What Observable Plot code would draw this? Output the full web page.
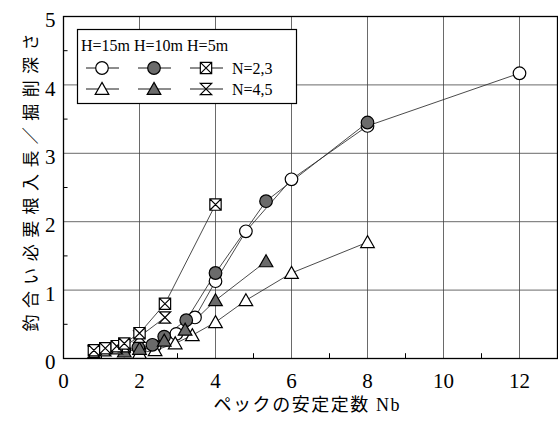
<!DOCTYPE html>
<html><head><meta charset="utf-8">
<script src="https://cdn.jsdelivr.net/npm/d3@7"></script>
<script src="https://cdn.jsdelivr.net/npm/@observablehq/plot@0.6"></script>
<style>body{margin:0;background:#fff}</style>
</head><body><div id="chart"></div>
<script>
// ---- data ----
const xLabel = "ペックの安定定数 Nb";
const yLabel = "釣合い必要根入長／掘削深さ";
const xTicks = [0, 2, 4, 6, 8, 10, 12];
const yTicks = [0, 1, 2, 3, 4, 5];
const xMinor = [1, 3, 5, 7, 9, 11];
const yMinor = [0.5, 1.5, 2.5, 3.5, 4.5];
const legendHeader = "H=15m H=10m H=5m";
const legendRowLabels = ["N=2,3", "N=4,5"];

// H=15m, N=2,3 (open circle)
const x_H15_N23 = [2.0, 2.4, 2.97, 3.46, 4.0, 4.8, 6.0, 8.0, 12.0];
const y_H15_N23 = [0.12, 0.18, 0.36, 0.60, 1.13, 1.86, 2.62, 3.40, 4.17];
// H=10m, N=2,3 (filled circle)
const x_H10_N23 = [1.6, 1.97, 2.34, 2.65, 3.23, 4.0, 5.33, 8.0];
const y_H10_N23 = [0.12, 0.16, 0.20, 0.32, 0.56, 1.25, 2.30, 3.45];
// H=5m, N=2,3 (boxed X)
const x_H5_N23 = [0.8, 1.1, 1.4, 1.6, 2.0, 2.67, 4.0];
const y_H5_N23 = [0.12, 0.15, 0.18, 0.22, 0.37, 0.80, 2.25];
// H=15m, N=4,5 (open triangle)
const x_H15_N45 = [2.0, 2.41, 2.94, 3.39, 4.0, 4.8, 6.0, 8.0];
const y_H15_N45 = [0.08, 0.12, 0.22, 0.34, 0.53, 0.85, 1.25, 1.70];
// H=10m, N=4,5 (filled triangle)
const x_H10_N45 = [1.6, 2.0, 2.65, 3.2, 4.0, 5.33];
const y_H10_N45 = [0.10, 0.14, 0.26, 0.42, 0.85, 1.42];
// H=5m, N=4,5 (hourglass X)
const x_H5_N45 = [0.8, 1.1, 1.4, 1.6, 2.0, 2.67];
const y_H5_N45 = [0.10, 0.12, 0.15, 0.18, 0.32, 0.60];

// ---- symbols ----
const triSym = {draw(ctx, size){const r=Math.sqrt(size/Math.PI); ctx.moveTo(0,-1.05*r); ctx.lineTo(1.08*r,0.85*r); ctx.lineTo(-1.08*r,0.85*r); ctx.closePath();}};
const boxXSym = {draw(ctx, size){const r=Math.sqrt(size/Math.PI)*0.9; ctx.moveTo(-r,-r); ctx.lineTo(r,-r); ctx.lineTo(r,r); ctx.lineTo(-r,r); ctx.closePath(); ctx.moveTo(-r,-r); ctx.lineTo(r,r); ctx.moveTo(r,-r); ctx.lineTo(-r,r);}};
const hourSym = {draw(ctx, size){const r=Math.sqrt(size/Math.PI)*0.9; ctx.moveTo(-r,-r); ctx.lineTo(r,-r); ctx.lineTo(-r,r); ctx.lineTo(r,r); ctx.closePath();}};
const grayFill = "#6b6b6b";

const series = [
  {key:"H15_N23", xs:x_H15_N23, ys:y_H15_N23, sym:"circle", d3sym:d3.symbolCircle, fill:"white", row:0, col:0},
  {key:"H15_N45", xs:x_H15_N45, ys:y_H15_N45, sym:triSym, d3sym:triSym, fill:"white", row:1, col:0},
  {key:"H10_N23", xs:x_H10_N23, ys:y_H10_N23, sym:"circle", d3sym:d3.symbolCircle, fill:grayFill, row:0, col:1},
  {key:"H10_N45", xs:x_H10_N45, ys:y_H10_N45, sym:triSym, d3sym:triSym, fill:grayFill, row:1, col:1},
  {key:"H5_N45", xs:x_H5_N45, ys:y_H5_N45, sym:hourSym, d3sym:hourSym, fill:"white", row:1, col:2},
  {key:"H5_N23", xs:x_H5_N23, ys:y_H5_N23, sym:boxXSym, d3sym:boxXSym, fill:"white", row:0, col:2}
];
const rows = series.flatMap(s => s.xs.map((x,i)=>({series:s.key, x, y:s.ys[i]})));

const R = 6.3;
const font = "'Liberation Serif','Times New Roman','DejaVu Serif','Noto Sans CJK JP',serif";
const fmt = d3.format("d");

const plot = Plot.plot({
  width: 558, height: 421,
  marginLeft: 63, marginRight: 1, marginTop: 16, marginBottom: 63,
  x: {domain:[0,13]}, y: {domain:[0,5]},
  style: {fontFamily: font, background: "white", color: "black"},
  marks: [
    Plot.gridX(xTicks.filter(d=>d>0), {stroke:"#444", strokeOpacity:1, strokeWidth:0.8}),
    Plot.gridY(yTicks.filter(d=>d>0 && d<5), {stroke:"#444", strokeOpacity:1, strokeWidth:0.8}),
    Plot.ruleX(xMinor, {y1:0, y2:0.07, stroke:"#000", strokeWidth:1}),
    Plot.ruleY(yMinor, {x1:0, x2:0.12, stroke:"#000", strokeWidth:1}),
    Plot.frame({stroke:"#000", strokeWidth:1.3}),
    Plot.axisX(xTicks, {tickSize:0, tickPadding:15, fontSize:21, label:null, tickFormat:fmt}),
    Plot.axisY(yTicks, {tickSize:0, tickPadding:8, fontSize:21, dy:4, label:null, tickFormat:fmt}),
    Plot.line(rows, {x:"x", y:"y", z:"series", stroke:"#2a2a2a", strokeWidth:0.85}),
    ...series.map(s => Plot.dot(rows.filter(r=>r.series===s.key), {x:"x", y:"y", r:R, symbol:s.sym, fill:s.fill, stroke:"#000", strokeWidth:1.2})),
    Plot.text([yLabel], {frameAnchor:"left", rotate:-90, dx:-32, dy:-5, fontSize:17, textAnchor:"middle", lineAnchor:"middle"}),
    Plot.text([xLabel], {frameAnchor:"bottom", dx:-4, dy:47, fontSize:18, textAnchor:"middle", lineAnchor:"middle"})
  ]
});
d3.select(plot).selectAll("text").filter(function(){ return this.textContent === yLabel; })
  .attr("textLength", 298).attr("lengthAdjust", "spacing");
d3.select(plot).selectAll("text").filter(function(){ return this.textContent === xLabel; })
  .attr("textLength", 186).attr("lengthAdjust", "spacing");

// ---- legend ----
const svg = d3.select(plot);
const lg = svg.append("g").style("font-family", font).attr("text-anchor","start");
lg.append("rect").attr("x",77.5).attr("y",29.5).attr("width",219).attr("height",74)
  .attr("fill","white").attr("stroke","#000").attr("stroke-width",1.2);
lg.append("text").attr("x",81).attr("y",51).attr("font-size",16).attr("text-anchor","start").text(legendHeader);
const colX = [102, 154, 206];
const rowY = [68, 89];
series.forEach(s => {
  const cx = colX[s.col], cy = rowY[s.row];
  lg.append("line").attr("x1",cx-16).attr("x2",cx+17).attr("y1",cy).attr("y2",cy).attr("stroke","#000").attr("stroke-width",0.9);
  lg.append("path").attr("transform",`translate(${cx},${cy})`)
    .attr("d", d3.symbol(s.d3sym, Math.PI*R*R)())
    .attr("fill", s.fill).attr("stroke","#000").attr("stroke-width",1.2);
});
legendRowLabels.forEach((t,i)=>{
  lg.append("text").attr("x",232).attr("y",rowY[i]+6).attr("font-size",16).attr("text-anchor","start").text(t);
});
document.getElementById("chart").appendChild(plot);
</script>
</body></html>
